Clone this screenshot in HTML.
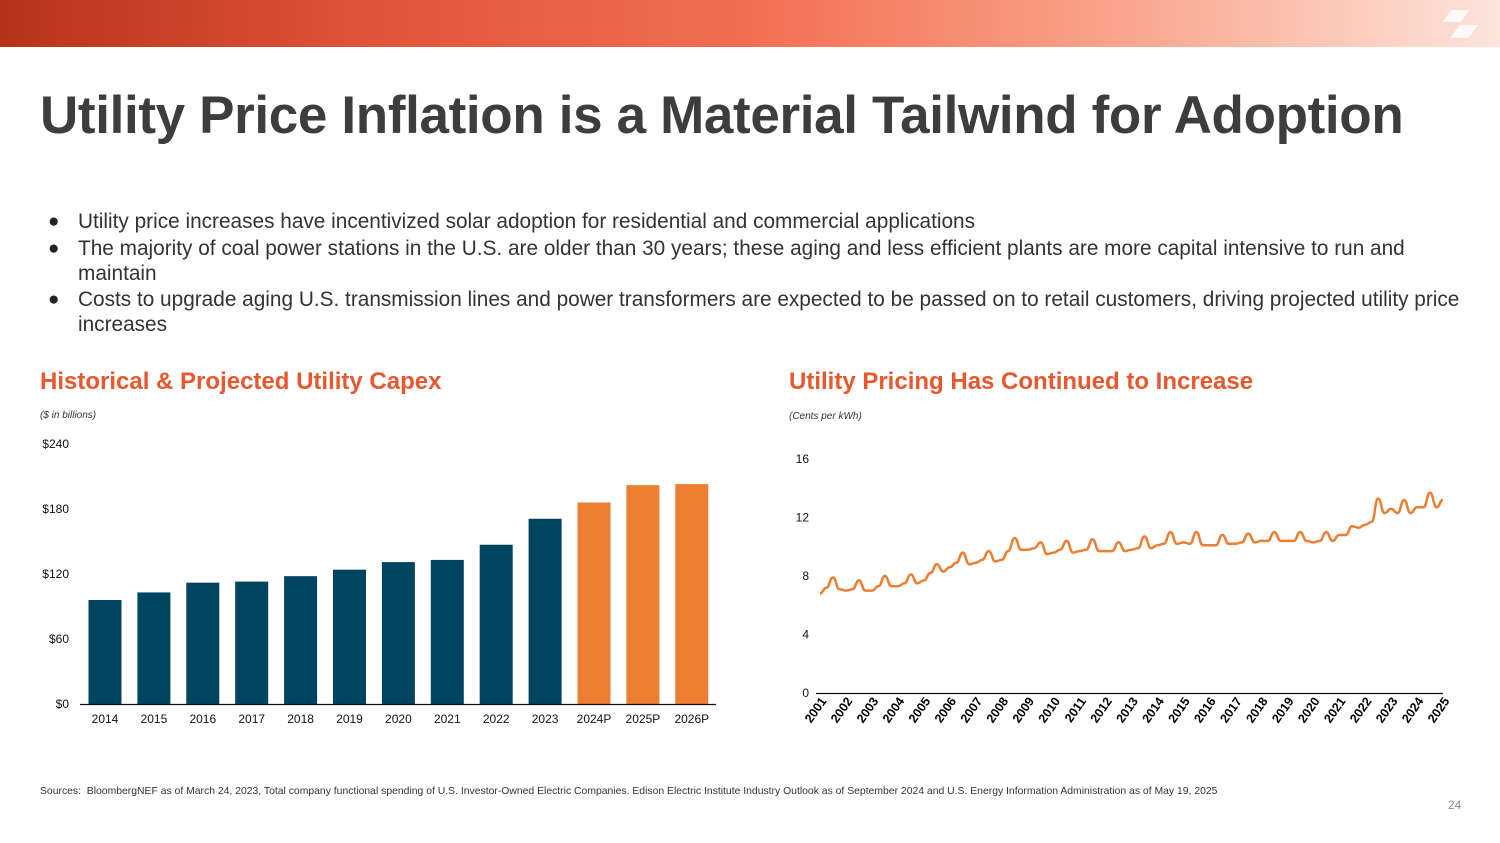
<!DOCTYPE html>
<html><head><meta charset="utf-8">
<style>
body{margin:0;width:1500px;height:843px;background:#fff;font-family:"Liberation Sans",Arial,sans-serif;position:relative;overflow:hidden}
.abs{position:absolute}
#hdr{left:0;top:0;width:1500px;height:47px;background:linear-gradient(90deg,#b8321a 0%,#e0553a 25%,#f26e52 50%,#f9a58c 75%,#fde4dc 100%)}
h1{position:absolute;left:40px;top:85px;margin:0;font-size:53px;font-weight:bold;color:#3d3d3d;letter-spacing:-0.35px}
ul{position:absolute;left:40px;top:209px;margin:0;padding:0;list-style:none;font-size:20.8px;color:#333;width:1430px}
li{position:relative;padding-left:38px;line-height:25px;margin-bottom:1.5px}
li:before{content:"●";position:absolute;left:8px;top:0px;font-size:19px;color:#222}
.ct{font-size:24px;font-weight:bold;color:#e8572e}
.sub{font-size:10px;font-style:italic;color:#333}
.ax{font-size:12px;fill:#111}
</style></head><body>
<div id="hdr" class="abs"></div>
<svg class="abs" style="left:1440px;top:8px" width="44" height="32"><polygon points="12,2 30,2 20,14 2,14" fill="#fff" opacity=".85"/><polygon points="20,17 38,17 28,30 10,30" fill="#fff" opacity=".85"/></svg>
<h1>Utility Price Inflation is a Material Tailwind for Adoption</h1>
<ul>
<li>Utility price increases have incentivized solar adoption for residential and commercial applications</li>
<li>The majority of coal power stations in the U.S. are older than 30 years; these aging and less efficient plants are more capital intensive to run and maintain</li>
<li>Costs to upgrade aging U.S. transmission lines and power transformers are expected to be passed on to retail customers, driving projected utility price increases</li>
</ul>
<div class="abs ct" style="left:40px;top:368px">Historical &amp; Projected Utility Capex</div>
<div class="abs sub" style="left:40px;top:410px">($ in billions)</div>
<div class="abs ct" style="left:789px;top:368px">Utility Pricing Has Continued to Increase</div>
<div class="abs sub" style="left:789px;top:411px">(Cents per kWh)</div>
<svg id="bar" class="abs" style="left:0;top:0" width="750" height="760"></svg>
<svg id="line" class="abs" style="left:750px;top:0" width="750" height="760"></svg>
<div class="abs" style="left:40px;top:786px;font-size:10.4px;color:#333">Sources:&nbsp; BloombergNEF as of March 24, 2023, Total company functional spending of U.S. Investor-Owned Electric Companies. Edison Electric Institute Industry Outlook as of September 2024 and U.S. Energy Information Administration as of May 19, 2025</div>
<div class="abs" style="left:1448px;top:798px;font-size:12px;color:#888">24</div>
<script>
const barCats=["2014","2015","2016","2017","2018","2019","2020","2021","2022","2023","2024P","2025P","2026P"];
const barVals=[96,103,112,113,118,124,131,133,147,171,186,202,203];
const barTicks=[0,60,120,180,240];
const years=["2001","2002","2003","2004","2005","2006","2007","2008","2009","2010","2011","2012","2013","2014","2015","2016","2017","2018","2019","2020","2021","2022","2023","2024","2025"];
const prices=[6.8,7.2,7.9,7.1, 7.0,7.1,7.7,7.0, 7.0,7.3,8.0,7.3, 7.3,7.5,8.1,7.5, 7.7,8.2,8.8,8.3, 8.6,8.9,9.6,8.8, 8.9,9.1,9.7,9.0, 9.1,9.7,10.6,9.8, 9.8,9.9,10.3,9.5, 9.6,9.8,10.4,9.6, 9.7,9.8,10.5,9.7, 9.7,9.7,10.3,9.7, 9.8,9.9,10.7,9.9, 10.1,10.2,11.0,10.2, 10.3,10.2,11.0,10.1, 10.1,10.1,10.8,10.2, 10.2,10.3,10.9,10.3, 10.4,10.4,11.0,10.4, 10.4,10.4,11.0,10.4, 10.3,10.4,11.0,10.4, 10.8,10.8,11.4,11.3, 11.5,11.7,13.3,12.3, 12.6,12.3,13.2,12.3, 12.7,12.7,13.7,12.7, 13.2];
const lineTicks=[0,4,8,12,16];
const NS="http://www.w3.org/2000/svg";
function mk(p,t,a){const e=document.createElementNS(NS,t);for(const k in a)e.setAttribute(k,a[k]);p.appendChild(e);return e;}
const B=document.getElementById('bar');
const by=v=>704-v*(260/240), bx=i=>105+i*48.9;
barTicks.forEach(t=>{const e=mk(B,'text',{x:69,y:by(t)+4,'text-anchor':'end',class:'ax'});e.textContent='$'+t;

});
barVals.forEach((v,i)=>{const r=mk(B,'rect',{x:bx(i)-16.5,y:by(v),width:33,height:704-by(v),fill:i>=10?'#ed7d31':'#00445f'});


const t=mk(B,'text',{x:bx(i),y:723,'text-anchor':'middle',class:'ax'});t.textContent=barCats[i];

});
const ba=mk(B,'line',{x1:80,x2:716,y1:704.5,y2:704.5,stroke:'#111','stroke-width':1.2});


const L=document.getElementById('line');
const ly=v=>693-v*(234/16), lx=i=>70+i*(623/96);
lineTicks.forEach(t=>{const e=mk(L,'text',{x:59,y:ly(t)+4,'text-anchor':'end',class:'ax'});e.textContent=t;

});
const la=mk(L,'line',{x1:66,x2:693,y1:693.5,y2:693.5,stroke:'#111','stroke-width':1.2});


let d='M'+lx(0)+','+ly(prices[0]);
for(let i=1;i<prices.length;i++){const x0=lx(i-1),x1=lx(i),y0=ly(prices[i-1]),y1=ly(prices[i]);const m=(x0+x1)/2;d+=`C${m.toFixed(1)},${y0.toFixed(1)} ${m.toFixed(1)},${y1.toFixed(1)} ${x1.toFixed(1)},${y1.toFixed(1)}`;}
const p=mk(L,'path',{d:d,fill:'none',stroke:'#ed7d31','stroke-width':2.5,'stroke-linejoin':'round'});


years.forEach((y,i)=>{const x=70+i*623/24+7;const t=mk(L,'text',{x:x,y:701,'text-anchor':'end',transform:`rotate(-55 ${x} 701)`,style:'font-size:12.5px;font-weight:bold'});t.textContent=y;

});
</script>
</body></html>
